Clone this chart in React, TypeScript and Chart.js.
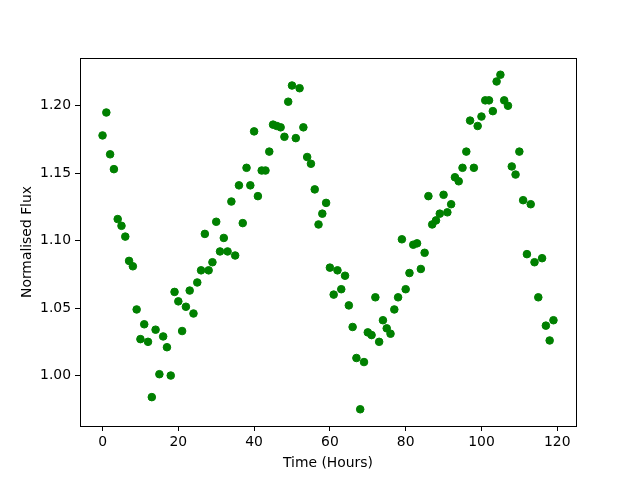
import React, { useEffect, useRef } from "react";
import { Chart, registerables } from "chart.js";

Chart.register(...registerables);

const hours: number[] = Array.from({ length: 120 }, (_, i) => i);
const flux: number[] = [
  1.178, 1.195, 1.164, 1.153, 1.116, 1.111, 1.103, 1.085, 1.081, 1.049,
  1.027, 1.038, 1.025, 0.984, 1.034, 1.001, 1.029, 1.021, 1.0, 1.062,
  1.055, 1.033, 1.051, 1.063, 1.046, 1.069, 1.078, 1.105, 1.078, 1.084,
  1.114, 1.092, 1.102, 1.092, 1.129, 1.089, 1.141, 1.113, 1.154, 1.141,
  1.181, 1.133, 1.152, 1.152, 1.166, 1.186, 1.185, 1.184, 1.177, 1.203,
  1.215, 1.176, 1.213, 1.184, 1.162, 1.157, 1.138, 1.112, 1.12, 1.128,
  1.08, 1.06, 1.078, 1.064, 1.074, 1.052, 1.036, 1.013, 0.975, 1.01,
  1.032, 1.03, 1.058, 1.025, 1.041, 1.035, 1.031, 1.049, 1.058, 1.101,
  1.064, 1.076, 1.097, 1.098, 1.079, 1.091, 1.133, 1.112, 1.115, 1.12,
  1.134, 1.121, 1.127, 1.147, 1.144, 1.154, 1.166, 1.189, 1.154, 1.185,
  1.192, 1.204, 1.204, 1.196, 1.218, 1.223, 1.204, 1.2, 1.155, 1.149,
  1.166, 1.13, 1.09, 1.127, 1.084, 1.058, 1.087, 1.037, 1.026, 1.041,
];
const xTicks: number[] = [0, 20, 40, 60, 80, 100, 120];
const yTicks: number[] = [1.0, 1.05, 1.1, 1.15, 1.2];

const FONT = "'DejaVu Sans', sans-serif";
const FS = 13.9;

const framePlugin = {
  id: "frame",
  afterDraw(chart: any) {
    const { ctx, chartArea } = chart;
    ctx.save();
    ctx.strokeStyle = "#000";
    ctx.lineWidth = 1;
    ctx.strokeRect(
      Math.round(chartArea.left) + 0.5,
      Math.round(chartArea.top) + 0.5,
      Math.round(chartArea.right - chartArea.left),
      Math.round(chartArea.bottom - chartArea.top)
    );
    ctx.restore();
  },
};

export default function App() {
  const ref = useRef<HTMLCanvasElement | null>(null);
  useEffect(() => {
    document.body.style.margin = "0";
    const canvas = ref.current;
    if (!canvas) return;
    const data = hours.map((h, i) => ({ x: h, y: flux[i] }));
    const chart = new Chart(canvas, {
      type: "scatter",
      data: {
        datasets: [
          {
            data,
            backgroundColor: "#008000",
            borderColor: "#008000",
            pointRadius: 3.8,
            borderWidth: 1,
          },
        ],
      },
      plugins: [framePlugin],
      options: {
        responsive: false,
        animation: false,
        layout: { padding: { left: 0, right: 64, top: 58, bottom: 0 } },
        plugins: { legend: { display: false }, tooltip: { enabled: false } },
        scales: {
          x: {
            type: "linear",
            min: -5.95,
            max: 124.95,
            afterBuildTicks: (scale: any) => {
              scale.ticks = xTicks.map((v) => ({ value: v }));
            },
            afterFit: (scale: any) => {
              scale.height = 54;
            },
            grid: {
              drawOnChartArea: false,
              drawTicks: true,
              tickLength: 5,
              color: "#000",
            },
            border: { display: true, color: "#000" },
            ticks: {
              color: "#000",
              font: { family: FONT, size: FS },
              padding: 3,
              maxRotation: 0,
              callback: (v: any) => String(v),
            },
            title: {
              display: true,
              text: "Time (Hours)",
              color: "#000",
              font: { family: FONT, size: FS },
              padding: { top: 8.7, bottom: 8.7 },
            },
          },
          y: {
            type: "linear",
            min: 0.9626,
            max: 1.2354,
            afterBuildTicks: (scale: any) => {
              scale.ticks = yTicks.map((v) => ({ value: v }));
            },
            afterFit: (scale: any) => {
              scale.width = 80;
            },
            grid: {
              drawOnChartArea: false,
              drawTicks: true,
              tickLength: 5,
              color: "#000",
            },
            border: { display: true, color: "#000" },
            ticks: {
              color: "#000",
              font: { family: FONT, size: FS },
              padding: 4,
              callback: (v: any) => Number(v).toFixed(2),
            },
            title: {
              display: true,
              text: "Normalised Flux",
              color: "#000",
              font: { family: FONT, size: FS },
              padding: { top: 18.7, bottom: 18.7 },
            },
          },
        },
      },
    });
    return () => chart.destroy();
  }, []);
  return (
    <div style={{ position: "absolute", left: 0, top: 0, width: 640, height: 480, background: "#fff" }}>
      <canvas ref={ref} width={640} height={480} style={{ width: 640, height: 480 }} />
    </div>
  );
}
